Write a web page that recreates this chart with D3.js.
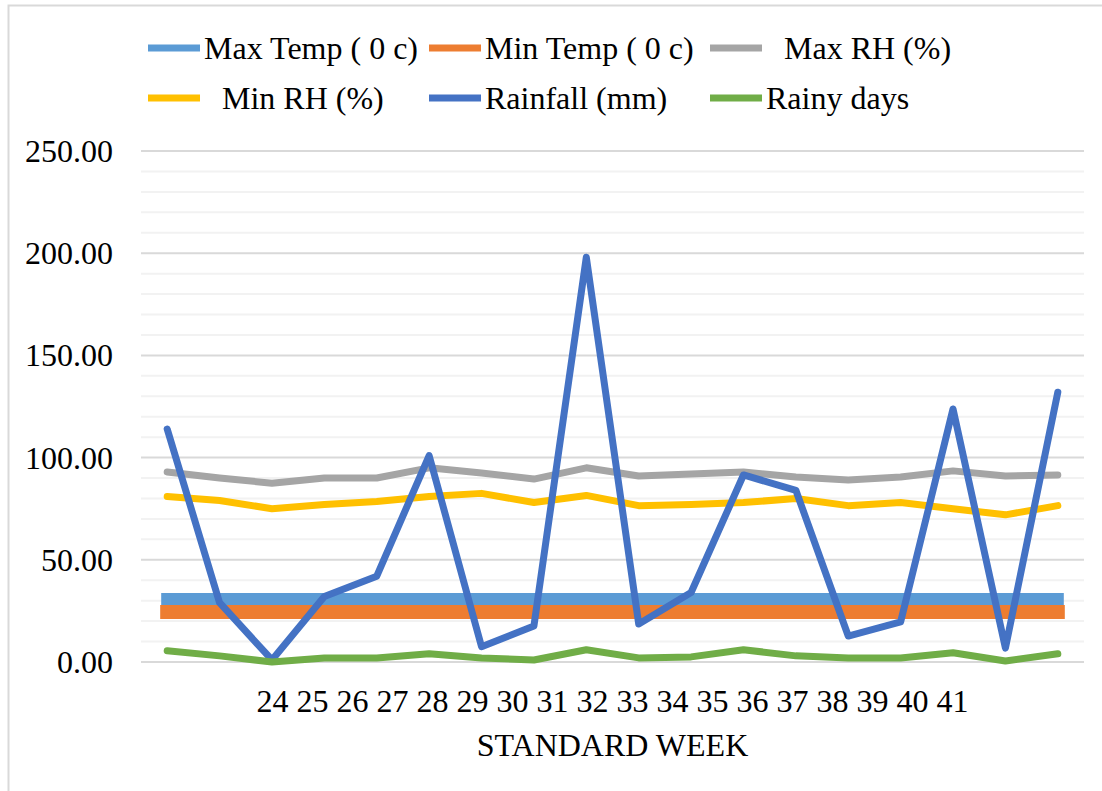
<!DOCTYPE html>
<html>
<head>
<meta charset="utf-8">
<script src="https://cdn.jsdelivr.net/npm/d3@7"></script>
<style>
  body { margin: 0; background: #fff; }
  text { font-family: "Liberation Serif", "Times New Roman", serif; fill: #000; }
</style>
</head>
<body>
<div id="chart"></div>
<script>
// Data
var weeks = ["24","25","26","27","28","29","30","31","32","33","34","35","36","37","38","39","40","41"];
var maxTemp = [30.8,30.8,30.8,30.8,30.8,30.8,30.8,30.8,30.8,30.8,30.8,30.8,30.8,30.8,30.8,30.8,30.8,30.8];
var minTemp = [24.5,24.5,24.5,24.5,24.5,24.5,24.5,24.5,24.5,24.5,24.5,24.5,24.5,24.5,24.5,24.5,24.5,24.5];
var maxRH = [93, 90, 87.5, 90, 90, 95, 92.5, 89.5, 95, 91, 92, 93, 90.5, 89, 90.5, 93.5, 91, 91.5];
var minRH = [81, 79, 75, 77, 78.5, 81, 82.5, 78, 81.5, 76.5, 77, 78, 80, 76.5, 78, 75, 72, 76.5];
var rainfall = [114, 29, 1, 32, 42, 101, 7.5, 17.6, 198, 18.6, 34, 91.5, 84, 12.7, 19.6, 123.8, 6.8, 132];
var rainyDays = [5.5, 3, 0, 2, 2, 4, 2, 1, 6, 2, 2.5, 6, 3, 2, 2, 4.5, 0.5, 4];
var yTicks = [0, 50, 100, 150, 200, 250];

var series = [
    {name: "Max Temp ( 0 c)", values: maxTemp, color: "#5b9bd5", width: 12, cap: "square", row: 0, col: 0, pad: 0},
    {name: "Min Temp ( 0 c)", values: minTemp, color: "#ed7d31", width: 14, cap: "square", row: 0, col: 1, pad: 0},
    {name: "Max RH (%)", values: maxRH, color: "#a5a5a5", width: 7, cap: "round", row: 0, col: 2, pad: 18},
    {name: "Min RH (%)", values: minRH, color: "#ffc000", width: 7, cap: "round", row: 1, col: 0, pad: 18},
    {name: "Rainfall (mm)", values: rainfall, color: "#4472c4", width: 7, cap: "round", row: 1, col: 1, pad: 0},
    {name: "Rainy days", values: rainyDays, color: "#70ad47", width: 7, cap: "round", row: 1, col: 2, pad: 0}
];

var width = 1102, height = 791;
var plot = {left: 141, right: 1084, top: 151, bottom: 662};

var svg = d3.select("#chart").append("svg")
    .attr("width", width)
    .attr("height", height);

// chart border
svg.append("rect")
    .attr("x", 8.5).attr("y", 5.5)
    .attr("width", width + 20).attr("height", height + 20)
    .attr("fill", "#fff")
    .attr("stroke", "#d9d9d9")
    .attr("stroke-width", 2);

var x = d3.scaleBand().domain(weeks).range([plot.left, plot.right]);
var y = d3.scaleLinear().domain([0, 250]).range([plot.bottom, plot.top]);

// minor grid every 10
var minor = d3.range(10, 250, 10).filter(function(v){ return v % 50 != 0; });
svg.append("g").selectAll("line")
    .data(minor).enter().append("line")
    .attr("x1", plot.left).attr("x2", plot.right)
    .attr("y1", function(d){ return y(d); }).attr("y2", function(d){ return y(d); })
    .attr("stroke", "#f2f2f2").attr("stroke-width", 2);

// major grid
svg.append("g").selectAll("line")
    .data(yTicks).enter().append("line")
    .attr("x1", plot.left).attr("x2", plot.right)
    .attr("y1", function(d){ return y(d); }).attr("y2", function(d){ return y(d); })
    .attr("stroke", "#d9d9d9").attr("stroke-width", 2);

// y axis labels
svg.append("g").selectAll("text")
    .data(yTicks).enter().append("text")
    .attr("x", 113)
    .attr("y", function(d){ return y(d) + 11; })
    .attr("text-anchor", "end")
    .style("font-size", "32px")
    .text(function(d){ return d.toFixed(2); });

// series lines
var line = function(vals){
    return d3.line()
        .x(function(d, i){ return x(weeks[i]) + x.bandwidth() / 2; })
        .y(function(d){ return y(d); })(vals);
};
svg.append("g").selectAll("path")
    .data(series).enter().append("path")
    .attr("d", function(d){ return line(d.values); })
    .attr("fill", "none")
    .attr("stroke", function(d){ return d.color; })
    .attr("stroke-width", function(d){ return d.width; })
    .attr("stroke-linejoin", "round")
    .attr("stroke-linecap", function(d){ return d.cap; });

// x tick labels (Excel packs them into one centred run)
svg.append("text")
    .attr("x", (plot.left + plot.right) / 2)
    .attr("y", 712)
    .attr("text-anchor", "middle")
    .style("font-size", "32px")
    .text(weeks.join(" "));

svg.append("text")
    .attr("x", (plot.left + plot.right) / 2)
    .attr("y", 756)
    .attr("text-anchor", "middle")
    .style("font-size", "32px")
    .text("STANDARD WEEK");

// legend
var legCols = [148, 429, 710];
var legRows = [48, 98];
var leg = svg.append("g").selectAll("g")
    .data(series).enter().append("g")
    .attr("transform", function(d){ return "translate(" + legCols[d.col] + "," + legRows[d.row] + ")"; });
leg.append("line")
    .attr("x1", 0).attr("x2", 52)
    .attr("stroke", function(d){ return d.color; })
    .attr("stroke-width", 7);
leg.append("text")
    .attr("x", function(d){ return 56 + d.pad; })
    .attr("y", 11)
    .style("font-size", "32px")
    .text(function(d){ return d.name; });
</script>
</body>
</html>
